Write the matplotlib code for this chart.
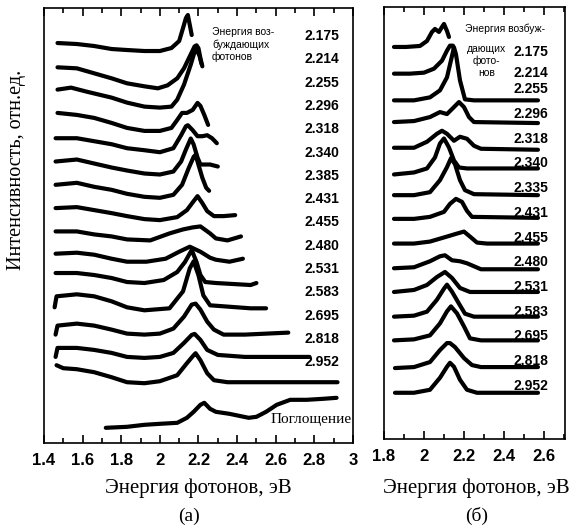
import matplotlib
matplotlib.use('Agg')
import matplotlib.pyplot as plt
from matplotlib.ticker import MultipleLocator, FormatStrFormatter

# ---- panel (a): PL spectra, energy (eV) / intensity (arb. units, above own baseline)
a_labels = ['2.175', '2.214', '2.255', '2.296', '2.318', '2.340', '2.385', '2.431',
            '2.455', '2.480', '2.531', '2.583', '2.695', '2.818', '2.952']

a01_e = [1.47, 1.57, 1.66, 1.75, 1.83, 1.92, 2.00, 2.06, 2.10, 2.12, 2.135, 2.145, 2.155, 2.165]
a01_i = [0, -1, -3, -6, -7, -8, -8, -5, 2, 15, 25, 28, 18, 8]
a02_e = [1.47, 1.57, 1.66, 1.75, 1.83, 1.92, 1.99, 2.04, 2.09, 2.125, 2.16, 2.18, 2.19, 2.20, 2.21, 2.22]
a02_i = [-1, -2, -7, -12, -17, -20, -22, -19, -12, -2, 12, 20, 21, 18, 8, 0]
a03_e = [1.47, 1.54, 1.62, 1.75, 1.83, 1.92, 2.00, 2.06, 2.09, 2.125, 2.16, 2.18, 2.19, 2.205, 2.215]
a03_i = [0, 2, -2, -8, -13, -17, -18, -17, -10, 5, 25, 38, 40, 34, 26]
a04_e = [1.47, 1.57, 1.66, 1.75, 1.83, 1.92, 2.00, 2.06, 2.09, 2.115, 2.14, 2.17, 2.195, 2.21, 2.23, 2.25]
a04_i = [0, -2, -5, -10, -15, -18, -18, -15, -7, 0, 0, 3, 10, 7, -2, -12]
a05_e = [1.46, 1.57, 1.66, 1.75, 1.83, 1.92, 2.00, 2.07, 2.11, 2.135, 2.145, 2.17, 2.195, 2.22, 2.245, 2.27, 2.295]
a05_i = [-2, -2, -5, -8, -12, -14, -16, -12, 1, 10, 11, 6, 0, 0, 1, -2, -7]
a06_e = [1.46, 1.57, 1.66, 1.75, 1.83, 1.92, 2.00, 2.07, 2.11, 2.135, 2.16, 2.175, 2.195, 2.21, 2.24, 2.26, 2.30]
a06_i = [-2, 0, -4, -8, -11, -14, -15, -12, -2, 10, 21, 15, 2, -5, -5, -5, -7]
a07_e = [1.46, 1.57, 1.66, 1.75, 1.83, 1.92, 2.00, 2.07, 2.115, 2.15, 2.175, 2.185, 2.20, 2.22, 2.24, 2.255]
a07_i = [-2, 0, -4, -7, -11, -14, -15, -12, -2, 15, 26, 28, 18, 5, -5, -8]
a08_e = [1.46, 1.57, 1.66, 1.75, 1.83, 1.92, 2.00, 2.09, 2.14, 2.175, 2.195, 2.22, 2.245, 2.28, 2.33, 2.39]
a08_i = [-2, -1, -4, -7, -10, -13, -14, -11, -4, 5, 10, 3, -5, -10, -10, -9]
a09_e = [1.46, 1.57, 1.66, 1.75, 1.83, 1.95, 2.05, 2.12, 2.17, 2.21, 2.26, 2.29, 2.35, 2.42]
a09_i = [-2, -2, -5, -7, -10, -11, -4, 0, 2, 3, -4, -9, -11, -7]
a10_e = [1.46, 1.57, 1.66, 1.75, 1.83, 1.93, 2.03, 2.10, 2.155, 2.21, 2.26, 2.29, 2.36, 2.43]
a10_i = [-1, 0, -2, -6, -9, -9, -6, 1, 6, 1, -5, -7, -9, -6]
a11_e = [1.46, 1.57, 1.66, 1.75, 1.83, 1.92, 2.02, 2.09, 2.13, 2.165, 2.19, 2.21, 2.235, 2.29, 2.47, 2.50]
a11_i = [3, 3, 1, -2, -6, -7, -4, 4, 14, 26, 14, 1, -6, -7, -9, -7]
a12_e = [1.455, 1.465, 1.57, 1.66, 1.75, 1.83, 1.92, 2.05, 2.12, 2.155, 2.175, 2.20, 2.225, 2.26, 2.47, 2.55]
a12_i = [-8, 3, 5, 3, -2, -8, -11, -9, 8, 31, 38, 24, 4, -6, -9, -9]
a13_e = [1.46, 1.47, 1.57, 1.66, 1.75, 1.83, 1.92, 2.00, 2.07, 2.125, 2.165, 2.185, 2.21, 2.245, 2.28, 2.33, 2.44, 2.665]
a13_i = [-12, -3, -1, -3, -7, -11, -12, -11, -6, 6, 18, 19, 13, 1, -7, -12, -12, -10]
a14_e = [1.46, 1.47, 1.57, 1.66, 1.75, 1.83, 1.92, 2.00, 2.07, 2.125, 2.165, 2.18, 2.21, 2.245, 2.30, 2.44, 2.775]
a14_i = [-11, -2, -2, -4, -7, -11, -12, -11, -7, 3, 11, 12, 6, -4, -9, -11, -11]
a15_e = [1.465, 1.50, 1.57, 1.66, 1.75, 1.83, 1.92, 2.00, 2.09, 2.14, 2.175, 2.185, 2.21, 2.245, 2.28, 2.35, 2.44, 2.92]
a15_i = [4, 1, 0, -3, -8, -13, -14, -12, -6, 6, 14, 16, 9, -4, -11, -13, -13, -13]

# absorption spectrum (bottom of panel a)
abs_e = [1.72, 1.83, 1.92, 2.00, 2.09, 2.14, 2.175, 2.21, 2.23, 2.26, 2.29, 2.36,
         2.46, 2.50, 2.55, 2.605, 2.675, 2.76, 2.845, 2.915]
abs_i = [-12, -11, -9, -8, -7, -2, 4, 11, 13, 7, 4, 2, -2, -1, 4, 11, 16, 16, 17, 18]

# ---- panel (b)
b_labels = ['2.175', '2.214', '2.255', '2.296', '2.318', '2.340', '2.335', '2.431',
            '2.455', '2.480', '2.531', '2.583', '2.695', '2.818', '2.952']

b01_e = [1.85, 1.91, 1.98, 2.015, 2.04, 2.055, 2.075, 2.09, 2.10, 2.115, 2.125]
b01_i = [0, 0, 1, 6, 15, 18, 15, 20, 23, 16, 10]
b02_e = [1.85, 1.93, 2.00, 2.05, 2.09, 2.115, 2.13, 2.145, 2.155]
b02_i = [-2, -2, -1, 3, 11, 21, 26, 26, 18]
b03_e = [1.85, 1.95, 2.03, 2.08, 2.115, 2.135, 2.15, 2.16, 2.18, 2.205, 2.25, 2.57]
b03_i = [-4, -4, -1, 6, 19, 36, 49, 42, 16, -3, -4, -4]
b04_e = [1.85, 1.95, 2.03, 2.08, 2.115, 2.15, 2.175, 2.20, 2.225, 2.25, 2.57]
b04_i = [-1, 0, 4, 9, 7, 14, 19, 14, 4, -1, -2]
b05_e = [1.85, 1.95, 2.015, 2.065, 2.09, 2.115, 2.15, 2.18, 2.215, 2.25, 2.285, 2.57]
b05_i = [-2, -2, 4, 12, 15, 12, 5, 9, 7, 0, -3, -4]
b06_e = [1.85, 1.95, 2.015, 2.055, 2.08, 2.10, 2.125, 2.15, 2.175, 2.215, 2.57]
b06_i = [-4, -2, 2, 13, 27, 32, 23, 10, 3, 2, 2]
b07_e = [1.85, 1.95, 2.03, 2.08, 2.115, 2.135, 2.155, 2.18, 2.205, 2.25, 2.57]
b07_i = [0, 0, 3, 15, 28, 37, 31, 15, 5, 1, 0]
b08_e = [1.85, 1.95, 2.03, 2.10, 2.13, 2.16, 2.19, 2.215, 2.24, 2.57]
b08_i = [1, 1, 3, 8, 16, 21, 18, 9, 3, 2]
b09_e = [1.85, 1.95, 2.03, 2.115, 2.165, 2.20, 2.23, 2.265, 2.315, 2.57]
b09_i = [1, 1, 3, 8, 11, 13, 8, 2, 1, 1]
b10_e = [1.85, 1.95, 2.03, 2.08, 2.105, 2.14, 2.18, 2.215, 2.25, 2.285, 2.57]
b10_i = [1, 2, 8, 13, 14, 9, 8, 6, 3, 0, 0]
b11_e = [1.85, 1.95, 2.015, 2.065, 2.105, 2.14, 2.18, 2.23, 2.57]
b11_i = [2, 4, 9, 17, 22, 16, 6, 2, 2]
b12_e = [1.85, 1.95, 2.015, 2.065, 2.10, 2.115, 2.14, 2.175, 2.205, 2.25, 2.57]
b12_i = [2, 3, 7, 19, 30, 34, 27, 15, 5, 2, 2]
b13_e = [1.85, 1.95, 2.03, 2.08, 2.115, 2.135, 2.165, 2.20, 2.23, 2.285, 2.57]
b13_i = [3, 4, 8, 20, 32, 37, 30, 17, 5, 3, 3]
b14_e = [1.855, 1.95, 2.03, 2.08, 2.115, 2.13, 2.155, 2.20, 2.24, 2.285, 2.57]
b14_i = [0, 1, 6, 18, 25, 25, 21, 10, 3, 1, 1]
b15_e = [1.855, 1.95, 2.03, 2.08, 2.115, 2.13, 2.15, 2.18, 2.215, 2.265, 2.57]
b15_i = [0, 0, 3, 15, 26, 30, 26, 13, 3, 0, 0]

a_curves = [(a01_e, a01_i), (a02_e, a02_i), (a03_e, a03_i), (a04_e, a04_i), (a05_e, a05_i),
            (a06_e, a06_i), (a07_e, a07_i), (a08_e, a08_i), (a09_e, a09_i), (a10_e, a10_i),
            (a11_e, a11_i), (a12_e, a12_i), (a13_e, a13_i), (a14_e, a14_i), (a15_e, a15_i)]
b_curves = [(b01_e, b01_i), (b02_e, b02_i), (b03_e, b03_i), (b04_e, b04_i), (b05_e, b05_i),
            (b06_e, b06_i), (b07_e, b07_i), (b08_e, b08_i), (b09_e, b09_i), (b10_e, b10_i),
            (b11_e, b11_i), (b12_e, b12_i), (b13_e, b13_i), (b14_e, b14_i), (b15_e, b15_i)]

step_a = 23.3
step_b = 24.7
lw = 3.0
sans = 'Liberation Sans'
serif = 'Liberation Serif'

fig = plt.figure(figsize=(5.72, 5.31), dpi=100)
ax1 = fig.add_axes([0.0769, 0.1657, 0.5402, 0.8192])
ax2 = fig.add_axes([0.6713, 0.1733, 0.3164, 0.8136])


def style_axis(ax):
    ax.xaxis.set_major_locator(MultipleLocator(0.2))
    ax.xaxis.set_minor_locator(MultipleLocator(0.1))
    ax.xaxis.set_major_formatter(FormatStrFormatter('%g'))
    ax.tick_params(axis='x', which='both', direction='in', top=True, bottom=True,
                   width=1.2, pad=7, labelsize=12)
    ax.tick_params(axis='x', which='major', length=6)
    ax.tick_params(axis='x', which='minor', length=3.5)
    ax.set_yticks([])
    for s in ax.spines.values():
        s.set_linewidth(1.2)
    for t in ax.get_xticklabels():
        t.set_fontfamily(sans)
        t.set_fontweight('bold')


# panel (a)
for i, (e, inten) in enumerate(a_curves):
    y = [v - i * step_a for v in inten]
    ax1.plot(e, y, color='black', lw=lw, solid_capstyle='round', solid_joinstyle='round')
    ax1.text(2.75, 7 - i * step_a, a_labels[i], ha='left', va='center',
             fontsize=10, fontfamily=sans, fontweight='bold')
ax1.plot(abs_e, [v - 16 * step_a for v in abs_i], color='black', lw=lw,
         solid_capstyle='round', solid_joinstyle='round')
ax1.text(2.995, -16 * step_a - 4, 'Поглощение', ha='right', va='center',
         fontsize=11, fontfamily=serif)
ax1.text(2.27, 16, 'Энергия воз-\nбуждающих\nфотонов', ha='left', va='top',
         fontsize=7.5, fontfamily=sans, linespacing=1.25)
ax1.set_xlim(1.4, 3.0)
ax1.set_ylim(-400, 35)
style_axis(ax1)

# panel (b)
for i, (e, inten) in enumerate(b_curves):
    y = [v - i * step_b for v in inten]
    ax2.plot(e, y, color='black', lw=lw, solid_capstyle='round', solid_joinstyle='round')
    dy = 7 if i > 1 else (-5 if i == 0 else -1)
    ax2.text(2.45, dy - i * step_b, b_labels[i], ha='left', va='center',
             fontsize=10, fontfamily=sans, fontweight='bold')
ax2.text(2.207, 18, 'Энергия возбуж-', ha='left', va='center', fontsize=7.5, fontfamily=sans)
ax2.text(2.313, -14, 'дающих\nфото-\nнов', ha='center', va='center', fontsize=7.5,
         fontfamily=sans, linespacing=1.25)
ax2.set_xlim(1.8, 2.705)
ax2.set_ylim(-392, 40)
style_axis(ax2)

fig.text(0.028, 0.68, 'Интенсивность, отн.ед.', rotation=90, ha='center', va='center',
         fontsize=14.5, fontfamily=serif)
fig.text(0.346, 0.081, 'Энергия фотонов, эВ', ha='center', va='center', fontsize=15,
         fontfamily=serif)
fig.text(0.832, 0.081, 'Энергия фотонов, эВ', ha='center', va='center', fontsize=15,
         fontfamily=serif)
fig.text(0.331, 0.028, '(a)', ha='center', va='center', fontsize=14, fontfamily=serif)
fig.text(0.834, 0.028, '(б)', ha='center', va='center', fontsize=14, fontfamily=serif)

fig.savefig('out.png', dpi=100)
